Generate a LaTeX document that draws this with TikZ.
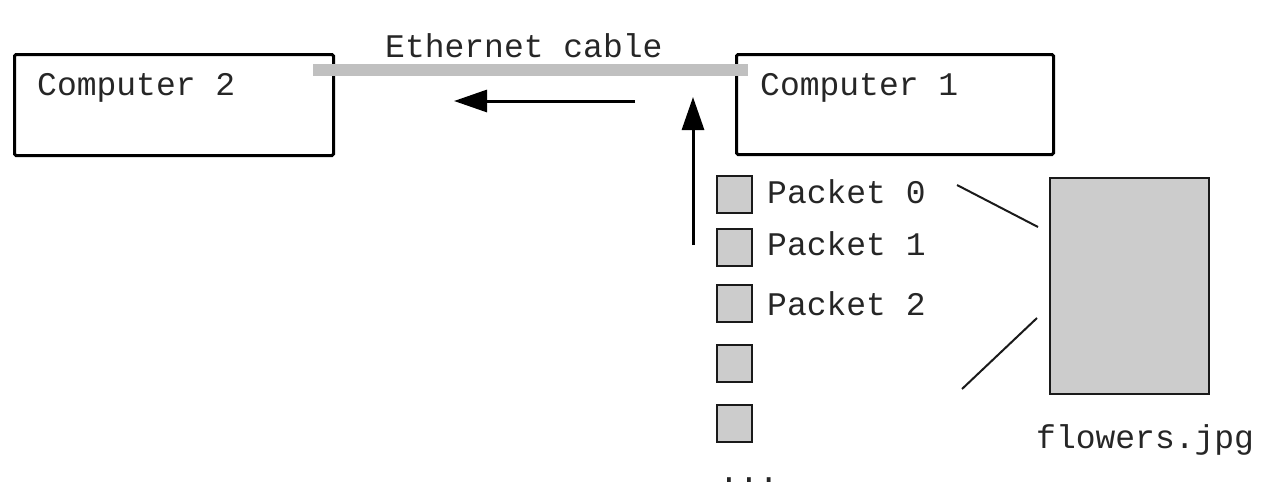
\documentclass[tikz,border=0pt]{standalone}
\usepackage{fontspec}
\setmonofont{Liberation Mono}
\usetikzlibrary{arrows.meta}
\definecolor{pktgray}{HTML}{CCCCCC}
\definecolor{cablegray}{HTML}{C0C0C0}
\definecolor{edge}{HTML}{1A1A1A}
\tikzset{
  lbl/.style={anchor=base west, inner sep=0pt, font=\ttfamily\fontsize{33}{33}\selectfont, text=black!85},
  compbox/.style={draw=black, line width=3pt, rounded corners=1.5pt},
  pkt/.style={draw=edge, fill=pktgray, line width=2pt, minimum width=35pt, minimum height=37pt, inner sep=0pt},
  filebox/.style={draw=edge, fill=pktgray, line width=2pt, inner sep=0pt},
  cable/.style={draw=cablegray, line width=12pt},
  flow/.style={line width=3pt, -{Triangle[length=33pt,width=22pt]}},
  link/.style={draw=edge, line width=2pt}
}
\begin{document}
\begin{tikzpicture}[x=1pt,y=-1pt]
\useasboundingbox (0,0) rectangle (1269,488);
% computers
\node[compbox, minimum width=319pt, minimum height=101pt, anchor=north west] (c2) at (13,53) {};
\node[compbox, minimum width=317pt, minimum height=100pt, anchor=north west] (c1) at (735,53) {};
\node[lbl] (t2) at (37,95) {Computer 2};
\node[lbl] (t1) at (760,95) {Computer 1};
% cable
\coordinate (cabL) at (313,70);
\coordinate (cabR) at (748,70);
\draw[cable] (cabL) -- (cabR);
\node[lbl] (tcab) at (385,57) {Ethernet cable};
% arrows
\coordinate (hA) at (635,101);
\coordinate (hB) at (454,101);
\draw[flow] (hA) -- (hB);
\coordinate (vA) at (693,245);
\coordinate (vB) at (693,97);
\draw[flow] (vA) -- (vB);
% packets
\node[pkt, anchor=north west] (p0) at (716,175) {};
\node[pkt, anchor=north west] (p1) at (716,228) {};
\node[pkt, anchor=north west] (p2) at (716,284) {};
\node[pkt, anchor=north west] (p3) at (716,344) {};
\node[pkt, anchor=north west] (p4) at (716,404) {};
\node[lbl] (l0) at (767,203) {Packet 0};
\node[lbl] (l1) at (767,255) {Packet 1};
\node[lbl] (l2) at (767,315) {Packet 2};
\node[lbl] (dots) at (719,482) {...};
% file
\node[filebox, minimum width=159pt, minimum height=216pt, anchor=north west] (file) at (1049,177) {};
\node[lbl] (fname) at (1036,448) {flowers.jpg};
\coordinate (a1) at (957,185);
\coordinate (a2) at (1038,227);
\coordinate (b1) at (962,389);
\coordinate (b2) at (1037,318);
\draw[link] (a1) -- (a2);
\draw[link] (b1) -- (b2);
\end{tikzpicture}
\end{document}
